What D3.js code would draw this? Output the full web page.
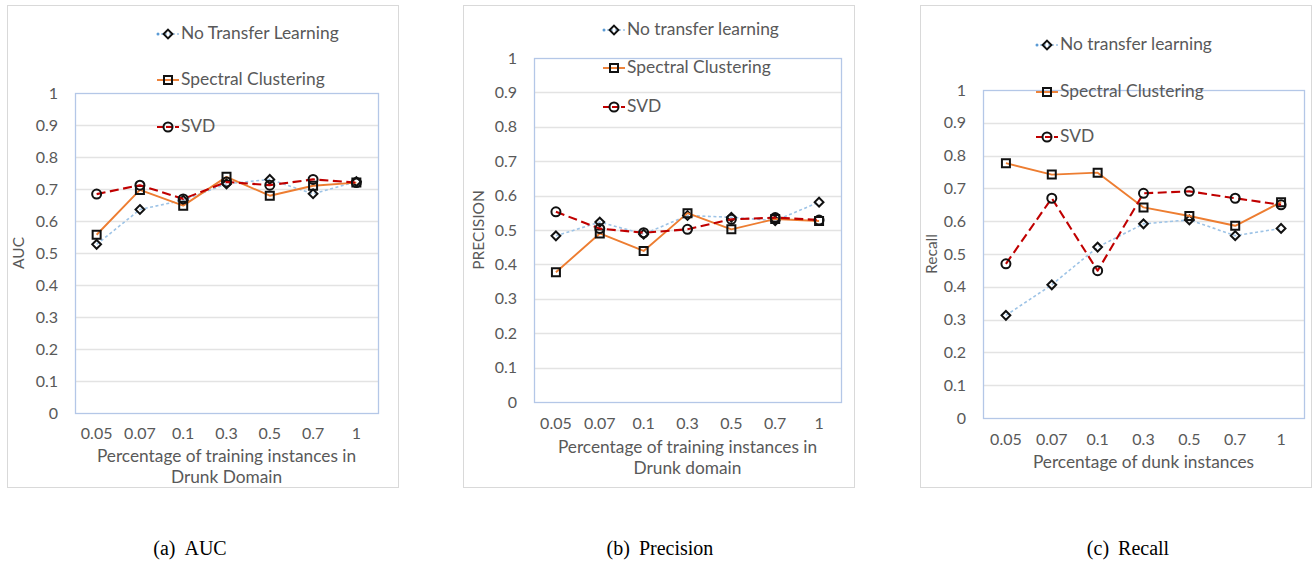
<!DOCTYPE html>
<html>
<head>
<meta charset="utf-8">
<script src="https://cdn.jsdelivr.net/npm/d3@7"></script>
<style>
  html, body { margin: 0; padding: 0; background: #fff; }
  svg { display: block; }
</style>
</head>
<body>
<svg id="fig" width="1312" height="562"></svg>
<script>
// Shared x categories (fraction of target-domain training instances) and y ticks
const categories = ["0.05", "0.07", "0.1", "0.3", "0.5", "0.7", "1"];
const yTickValues = [0, 0.1, 0.2, 0.3, 0.4, 0.5, 0.6, 0.7, 0.8, 0.9, 1];
const yTickLabels = ["0", "0.1", "0.2", "0.3", "0.4", "0.5", "0.6", "0.7", "0.8", "0.9", "1"];

// (a) AUC
const aucNoTransfer = [0.527, 0.636, 0.665, 0.716, 0.730, 0.685, 0.723];
const aucSpectral   = [0.557, 0.697, 0.648, 0.738, 0.679, 0.710, 0.720];
const aucSVD        = [0.684, 0.712, 0.669, 0.722, 0.712, 0.730, 0.720];

// (b) Precision
const precNoTransfer = [0.483, 0.523, 0.488, 0.542, 0.537, 0.527, 0.581];
const precSpectral   = [0.377, 0.490, 0.439, 0.549, 0.502, 0.532, 0.526];
const precSVD        = [0.553, 0.504, 0.492, 0.502, 0.531, 0.536, 0.529];

// (c) Recall
const recNoTransfer = [0.313, 0.406, 0.521, 0.592, 0.604, 0.556, 0.578];
const recSpectral   = [0.777, 0.742, 0.748, 0.642, 0.616, 0.586, 0.658];
const recSVD        = [0.470, 0.670, 0.449, 0.685, 0.691, 0.670, 0.650];

// Legend names per panel
const legendA = ["No Transfer Learning", "Spectral Clustering", "SVD"];
const legendB = ["No transfer learning", "Spectral Clustering", "SVD"];
const legendC = ["No transfer learning", "Spectral Clustering", "SVD"];

// Sub-figure captions: [label, name]
const captions = [["(a)", "AUC"], ["(b)", "Precision"], ["(c)", "Recall"]];

const svg = d3.select("#fig");
const FONT = "Lato, 'Open Sans', sans-serif";
const TEXT = "#595959";

// Series styling
const styles = [
  { color: "#9dc3e6", width: 1.6, dash: "3,2.5", marker: "diamond" },
  { color: "#ed7d31", width: 1.9, dash: null, marker: "square" },
  { color: "#c00000", width: 2.1, dash: "9,4.5", marker: "circle" }
];

function markerPath(type, cx, cy) {
  const p = d3.path();
  if (type === "diamond") {
    const r = 4.4;
    p.moveTo(cx, cy - r); p.lineTo(cx + r, cy); p.lineTo(cx, cy + r); p.lineTo(cx - r, cy); p.closePath();
  } else if (type === "square") {
    const h = 4;
    p.rect(cx - h, cy - h, 2 * h, 2 * h);
  } else {
    p.moveTo(cx + 4.5, cy);
    p.arc(cx, cy, 4.5, 0, 2 * Math.PI);
  }
  return p.toString();
}

const panels = [
  {
    box: [7, 5, 392, 483], plot: { l: 75, r: 378, t: 93, b: 413 },
    yTitle: "AUC", yTitleX: 20, tickRight: 58, xTickY: 435,
    xTitle: ["Percentage of training instances in", "Drunk Domain"], xTitleY: 457,
    legend: legendA, legendX: 168, legendY: [34, 80, 127],
    series: [aucNoTransfer, aucSpectral, aucSVD], caption: captions[0], captionX: 190
  },
  {
    box: [463, 5, 392, 483], plot: { l: 534, r: 841, t: 58, b: 402 },
    yTitle: "PRECISION", yTitleX: 480, tickRight: 517, xTickY: 425,
    xTitle: ["Percentage of training instances in", "Drunk domain"], xTitleY: 448,
    legend: legendB, legendX: 614, legendY: [30, 68, 107],
    series: [precNoTransfer, precSpectral, precSVD], caption: captions[1], captionX: 660
  },
  {
    box: [920, 5, 392, 483], plot: { l: 983, r: 1304, t: 90, b: 418 },
    yTitle: "Recall", yTitleX: 933, tickRight: 966, xTickY: 441,
    xTitle: ["Percentage of dunk instances"], xTitleY: 463,
    legend: legendC, legendX: 1047, legendY: [45, 92, 137],
    series: [recNoTransfer, recSpectral, recSVD], caption: captions[2], captionX: 1128
  }
];

panels.forEach(P => {
  const g = svg.append("g");
  const { l, r, t, b } = P.plot;

  // chart frame
  g.append("rect")
    .attr("x", P.box[0] + 0.5).attr("y", P.box[1] + 0.5)
    .attr("width", P.box[2] - 1).attr("height", P.box[3] - 1)
    .attr("fill", "#fff").attr("stroke", "#d9d9d9").attr("stroke-width", 1);

  const x = d3.scaleBand().domain(categories).range([l, r]);
  const y = d3.scaleLinear().domain([0, 1]).range([b, t]);

  // gridlines
  g.append("g").selectAll("line").data(yTickValues.slice(1, -1)).join("line")
    .attr("x1", l).attr("x2", r)
    .attr("y1", d => Math.round(y(d)) + 0.5).attr("y2", d => Math.round(y(d)) + 0.5)
    .attr("stroke", "#e3e3e3").attr("stroke-width", 1.3);

  // plot-area border
  g.append("rect")
    .attr("x", l + 0.5).attr("y", t + 0.5).attr("width", r - l).attr("height", b - t)
    .attr("fill", "none").attr("stroke", "#b4c7e7").attr("stroke-width", 1.3);

  // y axis labels
  const yAxis = d3.axisLeft(y).tickValues(yTickValues)
    .tickFormat((d, i) => yTickLabels[i]).tickSize(0).tickPadding(l - P.tickRight);
  const ya = g.append("g").attr("transform", `translate(${l},0)`).call(yAxis);
  ya.select(".domain").remove();
  ya.selectAll("text").attr("fill", TEXT).attr("font-family", FONT).attr("font-size", 16);

  // x axis labels
  const xAxis = d3.axisBottom(x).tickSize(0).tickPadding(0);
  const xa = g.append("g").attr("transform", `translate(0,${P.xTickY})`).call(xAxis);
  xa.select(".domain").remove();
  xa.selectAll("text").attr("dy", null).attr("dominant-baseline", "middle")
    .attr("fill", TEXT).attr("font-family", FONT).attr("font-size", 16);

  // axis titles
  const cx = (l + r) / 2;
  P.xTitle.forEach((line, i) => {
    g.append("text").attr("x", cx).attr("y", P.xTitleY + 1 + i * 21)
      .attr("text-anchor", "middle").attr("dominant-baseline", "middle")
      .attr("fill", TEXT).attr("font-family", FONT).attr("font-size", 17.3).text(line);
  });
  g.append("text")
    .attr("transform", `translate(${P.yTitleX},${(t + b) / 2}) rotate(-90)`)
    .attr("text-anchor", "middle").attr("dominant-baseline", "middle")
    .attr("fill", TEXT).attr("font-family", FONT).attr("font-size", 15.5).text(P.yTitle);

  // series lines and markers
  const xc = c => x(c) + x.bandwidth() / 2;
  P.series.forEach((vals, si) => {
    const st = styles[si];
    const line = d3.line().x((d, i) => xc(categories[i])).y(d => y(d));
    g.append("path").datum(vals).attr("d", line)
      .attr("fill", "none").attr("stroke", st.color).attr("stroke-width", st.width)
      .attr("stroke-dasharray", st.dash).attr("stroke-linejoin", "round");
    g.append("g").selectAll("path").data(vals).join("path")
      .attr("d", (d, i) => markerPath(st.marker, xc(categories[i]), y(d)))
      .attr("fill", "none").attr("stroke", "#111").attr("stroke-width", 2);
  });

  // legend
  P.legend.forEach((name, si) => {
    const st = styles[si];
    const ly = P.legendY[si], lx = P.legendX;
    g.append("line").attr("x1", lx - 11).attr("x2", lx + 11).attr("y1", ly).attr("y2", ly)
      .attr("stroke", st.color).attr("stroke-width", st.width)
      .attr("stroke-dasharray", si === 0 ? "2,2" : (si === 2 ? "6,3" : null));
    if (si === 0) {
      g.append("circle").attr("cx", lx - 10).attr("cy", ly).attr("r", 1.5).attr("fill", "#5b9bd5");
    }
    g.append("path").attr("d", markerPath(st.marker, lx, ly))
      .attr("fill", "none").attr("stroke", "#111").attr("stroke-width", 2);
    g.append("text").attr("x", lx + 13).attr("y", ly + 1).attr("dominant-baseline", "middle")
      .attr("fill", TEXT).attr("font-family", FONT).attr("font-size", 17.4).text(name);
  });

  // caption
  const cap = svg.append("text").attr("x", P.captionX).attr("y", 550)
    .attr("text-anchor", "middle").attr("dominant-baseline", "middle")
    .attr("fill", "#000").attr("font-family", "'Liberation Serif', 'Times New Roman', serif")
    .attr("font-size", 20);
  cap.append("tspan").text(P.caption[0]);
  cap.append("tspan").attr("dx", 9).text(P.caption[1]);
});
</script>
</body>
</html>
